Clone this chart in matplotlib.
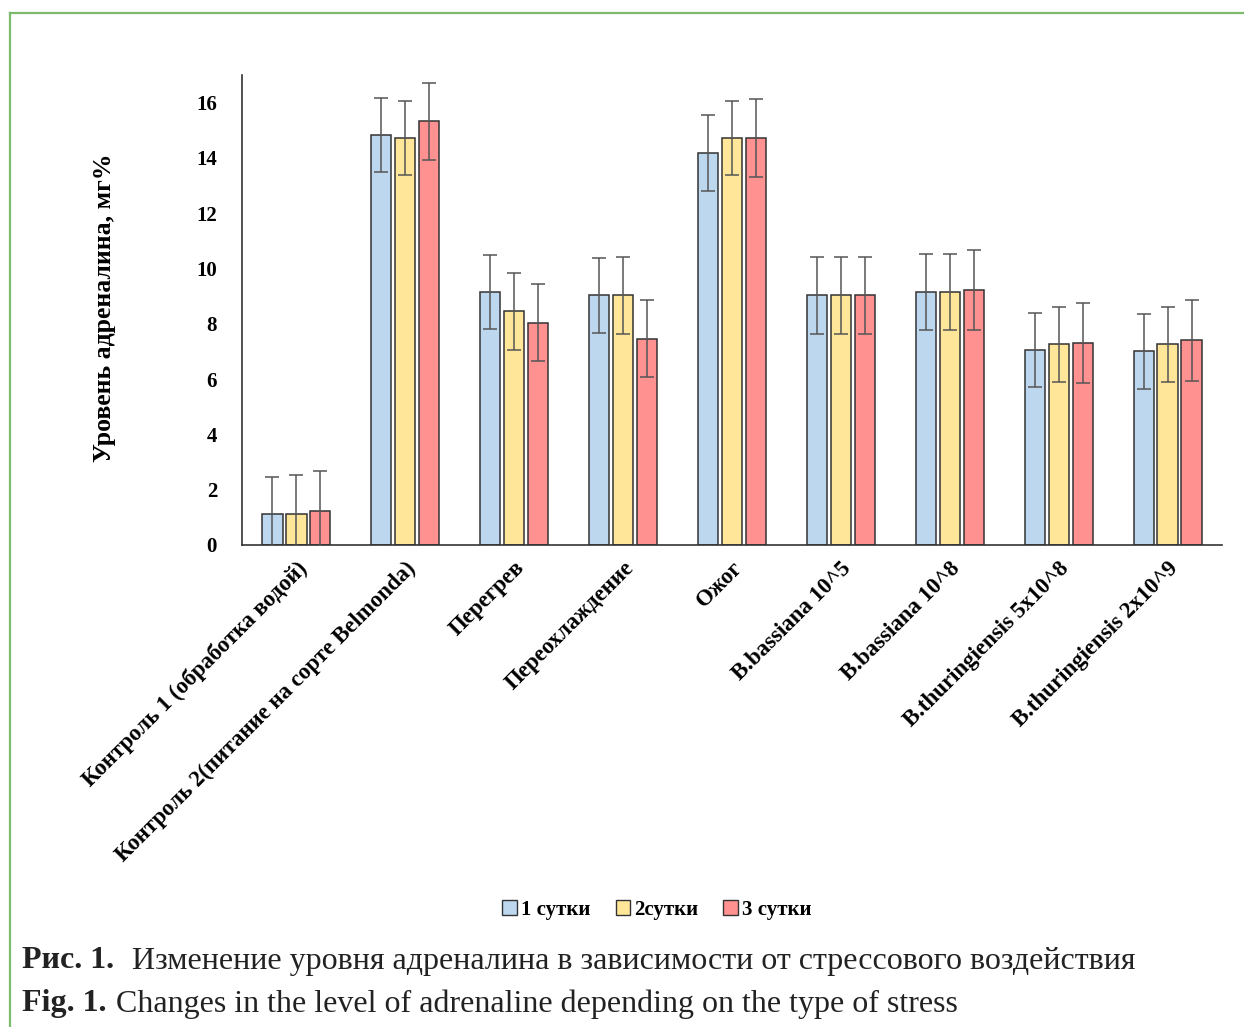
import matplotlib
matplotlib.use("Agg")
import matplotlib.pyplot as plt
import numpy as np
from matplotlib.patches import Rectangle
from matplotlib.lines import Line2D

categories = [
    "Контроль 1 (обработка водой)",
    "Контроль 2(питание на сорте Belmonda)",
    "Перегрев",
    "Переохлаждение",
    "Ожог",
    "B.bassiana 10^5",
    "B.bassiana 10^8",
    "B.thuringiensis 5x10^8",
    "B.thuringiensis 2x10^9",
]
series_names = ["1 сутки", "2сутки", "3 сутки"]
day1 = [1.12, 14.83, 9.15, 9.03, 14.18, 9.03, 9.14, 7.05, 7.00]
day2 = [1.12, 14.72, 8.45, 9.03, 14.72, 9.03, 9.14, 7.26, 7.26]
day3 = [1.23, 15.32, 8.04, 7.46, 14.72, 9.03, 9.23, 7.31, 7.40]
err1 = [1.35, 1.35, 1.33, 1.35, 1.38, 1.38, 1.38, 1.33, 1.35]
err2 = [1.40, 1.35, 1.38, 1.40, 1.35, 1.38, 1.38, 1.35, 1.35]
err3 = [1.45, 1.40, 1.40, 1.40, 1.40, 1.40, 1.45, 1.45, 1.45]
yticks = [0, 2, 4, 6, 8, 10, 12, 14, 16]
ylabel = "Уровень адреналина, мг%"
caption_ru_bold = "Рис. 1."
caption_ru = "Изменение уровня адреналина в зависимости от стрессового воздействия"
caption_en_bold = "Fig. 1."
caption_en = "Changes in the level of adrenaline depending on the type of stress"

colors = ["#BDD7EE", "#FFE699", "#FF9191"]
serif = ["Liberation Serif", "DejaVu Serif"]

W, H = 1244, 1027
fig = plt.figure(figsize=(W / 100, H / 100), dpi=100)

# green frame
fig.add_artist(Line2D([10 / W, 10 / W], [0, 1 - 13 / H], color="#7CBB6C", lw=1.6, transform=fig.transFigure))
fig.add_artist(Line2D([10 / W, 1], [1 - 13 / H, 1 - 13 / H], color="#7CBB6C", lw=1.6, transform=fig.transFigure))

ax = fig.add_axes([242 / W, 1 - 545 / H, (1222 - 242) / W, (545 - 75) / H])
x = np.arange(len(categories))
width = 0.185
offset = 0.22
for i, (vals, errs) in enumerate(zip([day1, day2, day3], [err1, err2, err3])):
    ax.bar(x + (i - 1) * offset, vals, width, color=colors[i], edgecolor="#333333",
           linewidth=1.1, label=series_names[i], zorder=2)
    ax.errorbar(x + (i - 1) * offset, vals, yerr=errs, fmt="none", ecolor="#555555",
                elinewidth=1.1, capsize=5, capthick=1.1, zorder=3)

ax.set_xlim(-0.5, len(categories) - 0.5)
ax.set_ylim(0, 17)
ax.set_yticks(yticks)
ax.set_yticklabels([str(t) for t in yticks], fontsize=15, fontweight="bold", family=serif)
ax.tick_params(axis="y", length=0, pad=18)
ax.tick_params(axis="x", length=0, pad=9)
ax.set_xticks(x)
ax.set_xticklabels(categories, rotation=45, ha="right", va="top", rotation_mode="anchor",
                   fontsize=16.5, fontweight="bold", family=serif)
for s in ["top", "right"]:
    ax.spines[s].set_visible(False)
for s in ["left", "bottom"]:
    ax.spines[s].set_color("#333333")
    ax.spines[s].set_linewidth(1.2)

fig.text(105 / W, 1 - 308 / H, ylabel, rotation=90, ha="center", va="center",
         fontsize=18.5, fontweight="bold", family=serif)

handles = [Rectangle((0, 0), 1, 1, facecolor=c, edgecolor="#333333", lw=1.0) for c in colors]
fig.legend(handles, series_names, loc="center", bbox_to_anchor=(657 / W, 1 - 910 / H), ncol=3,
           frameon=False, prop={"family": serif, "weight": "bold", "size": 15},
           handlelength=0.7, handleheight=0.7, handletextpad=0.2, columnspacing=1.2)

fs = 23
fig.text(22 / W, 1 - 961 / H, caption_ru_bold, fontsize=fs, fontweight="bold", family=serif,
         ha="left", va="center", color="#222222")
fig.text(132 / W, 1 - 961 / H, caption_ru, fontsize=fs, family=serif, ha="left", va="center",
         color="#222222")
fig.text(22 / W, 1 - 1004 / H, caption_en_bold, fontsize=fs, fontweight="bold", family=serif,
         ha="left", va="center", color="#222222")
fig.text(116 / W, 1 - 1004 / H, caption_en, fontsize=fs, family=serif, ha="left", va="center",
         color="#222222")

fig.savefig("out.png", dpi=100)
